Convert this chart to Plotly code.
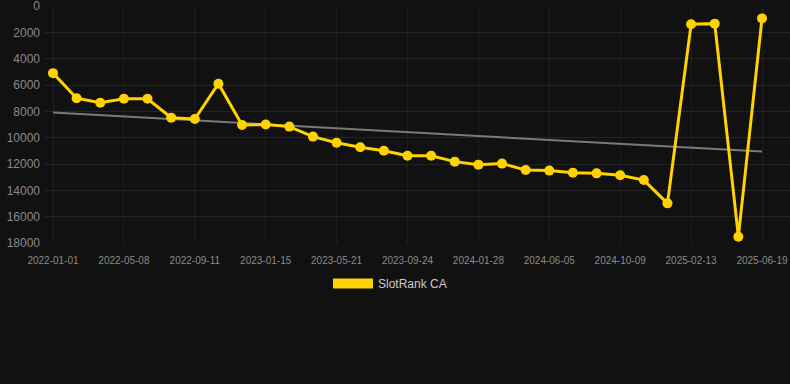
import numpy as np
import plotly.graph_objects as go

dates = [
    "2022-01-01", "2022-02-12", "2022-03-26", "2022-05-08", "2022-06-19", "2022-07-31",
    "2022-09-11", "2022-10-23", "2022-12-04", "2023-01-15", "2023-02-26", "2023-04-09",
    "2023-05-21", "2023-07-02", "2023-08-13", "2023-09-24", "2023-11-05", "2023-12-17",
    "2024-01-28", "2024-03-10", "2024-04-22", "2024-06-05", "2024-07-17", "2024-08-28",
    "2024-10-09", "2024-11-20", "2025-01-01", "2025-02-13", "2025-03-27", "2025-05-08",
    "2025-06-19",
]
rank = [
    5100, 7000, 7350, 7050, 7050, 8480, 8580, 5900, 9040, 9000, 9160, 9920,
    10380, 10730, 10990, 11370, 11370, 11820, 12050, 11970, 12450, 12500, 12660, 12710,
    12860, 13220, 14990, 1390, 1340, 17520, 940,
]
y_ticks = [0, 2000, 4000, 6000, 8000, 10000, 12000, 14000, 16000, 18000]
series_name = "SlotRank CA"

idx = np.arange(len(rank))
slope, intercept = np.polyfit(idx, rank, 1)
trend = slope * idx + intercept

GOLD = "#FFD200"

fig = go.Figure()
fig.add_trace(go.Scatter(
    x=dates, y=trend, mode="lines",
    line=dict(color="#7a7a7a", width=2),
    showlegend=False, hoverinfo="skip",
))
fig.add_trace(go.Scatter(
    x=dates, y=rank, mode="lines+markers",
    line=dict(color=GOLD, width=3),
    marker=dict(color=GOLD, size=10),
    showlegend=False, cliponaxis=False,
))
fig.add_trace(go.Scatter(
    x=[None], y=[None], mode="lines",
    line=dict(color=GOLD, width=12),
    name=series_name, showlegend=True,
))

step = 23.633
fig.update_layout(
    width=790, height=384,
    paper_bgcolor="#111111", plot_bgcolor="#111111",
    margin=dict(l=45, r=0, t=6, b=141, autoexpand=False),
    font=dict(family="Liberation Sans, Arial, sans-serif", color="#8a8a8a", size=11),
    xaxis=dict(
        type="category",
        categoryorder="array", categoryarray=dates,
        range=[-8 / step, 30 + 28 / step],
        tickmode="array", tickvals=dates[::3], ticktext=dates[::3],
        tickangle=0,
        showgrid=True, gridcolor="#1f1f1f", gridwidth=1,
        zeroline=False, showline=False,
        ticks="", tickfont=dict(size=10, color="#8a8a8a"),
        ticklabelstandoff=10, ticklabeloverflow="allow",
    ),
    yaxis=dict(
        range=[18000, -0.5],
        tickmode="array", tickvals=y_ticks,
        ticktext=[str(v) for v in y_ticks],
        showgrid=True, gridcolor="#242424", gridwidth=1,
        zeroline=False, showline=False,
        ticks="", tickfont=dict(size=12, color="#8a8a8a"),
        ticklabelstandoff=4, ticklabeloverflow="allow",
    ),
    legend=dict(
        orientation="h", x=(390 - 45) / 745, xanchor="center",
        y=-0.11, yanchor="top",
        font=dict(size=12, color="#cccccc"),
        itemwidth=40, bgcolor="rgba(0,0,0,0)",
    ),
    showlegend=True,
)

fig.write_html(
    "out.html",
    config={"displayModeBar": False},
    post_script="document.body.style.margin='0';document.body.style.background='#111111';",
)
